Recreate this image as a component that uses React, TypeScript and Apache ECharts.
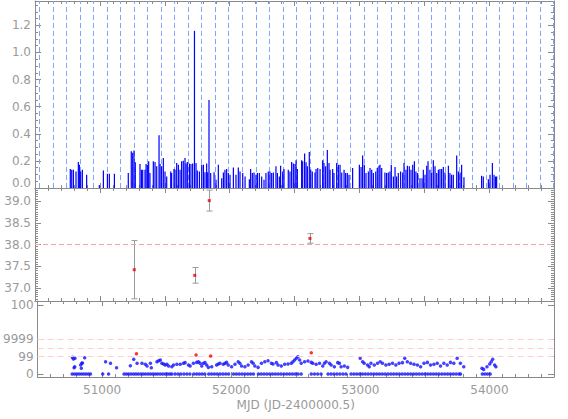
import React, { useEffect, useRef } from "react";
import * as echarts from "echarts";

// ---------- shared x range ----------
const xMin = 50500;
const xMax = 54500;

// ---------- top panel: flux per observation ----------
const fluxMjd = [
  50772, 50783, 50796, 50816, 50834, 50842, 50852, 50865, 50898, 50996,
  51027, 51058, 51073, 51112, 51219, 51242, 51253, 51263, 51273, 51309,
  51320, 51330, 51348, 51356, 51366, 51376, 51386, 51412, 51425, 51438,
  51456, 51464, 51476, 51489, 51502, 51515, 51546, 51553, 51571, 51579,
  51592, 51605, 51618, 51630, 51643, 51656, 51664, 51674, 51690, 51702,
  51715, 51729, 51741, 51751, 51767, 51785, 51798, 51810, 51823, 51831,
  51841, 51854, 51880, 51895, 51913, 51939, 51952, 51964, 51977, 51990,
  52003, 52029, 52049, 52067, 52080, 52101, 52119, 52152, 52162, 52175,
  52188, 52203, 52214, 52229, 52247, 52265, 52280, 52298, 52311, 52324,
  52337, 52357, 52368, 52383, 52393, 52409, 52419,
  52452, 52465, 52478, 52491, 52504, 52512, 52522, 52555, 52563, 52578,
  52589, 52599, 52614, 52625, 52637, 52658, 52666, 52679, 52697, 52717,
  52727, 52740, 52753, 52766, 52774, 52794, 52804, 52825, 52838, 52851,
  52864, 52882, 52894, 52907, 52920, 52948, 53000, 53013, 53025, 53038,
  53051, 53069, 53082, 53095, 53108, 53126, 53138, 53151, 53159, 53172,
  53197, 53210, 53223, 53236, 53246, 53262, 53275, 53287, 53300, 53318,
  53334, 53344, 53359, 53370, 53385, 53398, 53411, 53424, 53436, 53449,
  53467, 53483, 53493, 53506, 53519, 53529, 53544, 53557, 53570, 53583,
  53596, 53609, 53621, 53634, 53647, 53660, 53686, 53698, 53711, 53724,
  53750, 53763, 53776, 53788, 53806, 53942, 53955, 53994, 54007, 54025,
  54038, 54050, 54058,
];
const fluxVal = [
  0.14, 0.135, 0.135, 0.122, 0.192, 0.172, 0.122, 0.135, 0.097, 0.022,
  0.13, 0.105, 0.105, 0.105, 0.11, 0.272, 0.26, 0.277, 0.19, 0.177,
  0.135, 0.135, 0.135, 0.177, 0.172, 0.197, 0.11, 0.197, 0.192, 0.16,
  0.39, 0.177, 0.16, 0.222, 0.122, 0.085, 0.122, 0.11, 0.14, 0.135,
  0.185, 0.172, 0.135, 0.197, 0.202, 0.222, 0.18, 0.192, 0.18, 0.177,
  0.18, 1.16, 0.185, 0.13, 0.122, 0.172, 0.172, 0.117, 0.18, 0.117,
  0.65, 0.11, 0.117, 0.06, 0.172, 0.072, 0.115, 0.135, 0.14, 0.11,
  0.097, 0.152, 0.097, 0.152, 0.122, 0.11, 0.085, 0.065, 0.14, 0.11,
  0.115, 0.097, 0.11, 0.11, 0.085, 0.06, 0.11, 0.122, 0.122, 0.11,
  0.115, 0.16, 0.11, 0.085, 0.165, 0.122, 0.14,
  0.135, 0.122, 0.192, 0.18, 0.177, 0.205, 0.14, 0.205, 0.197, 0.255,
  0.19, 0.16, 0.265, 0.135, 0.122, 0.115, 0.14, 0.147, 0.14, 0.205,
  0.185, 0.16, 0.28, 0.185, 0.135, 0.14, 0.11, 0.185, 0.172, 0.172,
  0.115, 0.135, 0.11, 0.11, 0.097, 0.147, 0.172, 0.155, 0.24, 0.172,
  0.11, 0.122, 0.147, 0.135, 0.11, 0.122, 0.147, 0.165, 0.172, 0.147,
  0.115, 0.11, 0.115, 0.122, 0.172, 0.085, 0.155, 0.085, 0.11, 0.122,
  0.115, 0.185, 0.135, 0.165, 0.16, 0.135, 0.172, 0.197, 0.122, 0.11,
  0.072, 0.072, 0.135, 0.097, 0.165, 0.197, 0.135, 0.115, 0.205, 0.16,
  0.11, 0.135, 0.14, 0.14, 0.155, 0.115, 0.165, 0.11, 0.097, 0.097,
  0.24, 0.122, 0.115, 0.172, 0.08, 0.09, 0.085, 0.065, 0.097, 0.185,
  0.097, 0.085, 0.085,
];
// orbital ephemeris (dashed vertical lines)
const orbitT0 = 50530.8;
const orbitPeriod = 104.3;

// ---------- middle panel: log luminosity with errors ----------
const lumMjd = [51265, 51731, 51843, 52619];
const lumVal = [37.42, 37.29, 39.01, 38.14];
const lumErr = [0.67, 0.18, 0.24, 0.11];
const lumRef = 38.0;

// ---------- bottom panel: flags ----------
const flagZeroMjd = [
  50768, 50786, 50804, 50822, 50840, 50858, 50876, 50894, 50910, 51005,
  51050, 51170, 51188, 51206, 51225, 51244, 51262, 51280, 51300, 51318,
  51336, 51356, 51375, 51394, 51412, 51430, 51450, 51470, 51490, 51508,
  51526, 51540, 51565, 51588, 51610, 51634, 51657, 51680, 51710, 51732,
  51753, 51774, 51795, 51826, 51848, 51870, 51892, 51914, 51936, 51958,
  51980, 52018, 52040, 52062, 52084, 52106, 52128, 52150, 52172, 52211,
  52232, 52254, 52276, 52298, 52320, 52342, 52364, 52386, 52408, 52430,
  52452, 52474, 52496, 52518, 52542, 52620, 52645, 52670, 52696, 52750,
  52773, 52796, 52819, 52842, 52866, 52889, 52928, 52950, 52972, 52994,
  53016, 53038, 53060, 53082, 53104, 53126, 53148, 53170, 53192, 53214,
  53236, 53258, 53280, 53302, 53324, 53346, 53368, 53390, 53412, 53434,
  53456, 53478, 53500, 53522, 53544, 53566, 53588, 53610, 53632, 53654,
  53676, 53698, 53720, 53742, 53764, 53776, 53945, 53965, 53985, 54006,
];
const flagMjd = [
  50770, 50778, 50783, 50788, 50790, 50834, 50839, 50842, 50848, 50865,
  51027, 51065, 51112, 51219, 51245, 51271, 51309, 51335, 51348, 51374,
  51381, 51425, 51438, 51451, 51463, 51476, 51489, 51502, 51515, 51540,
  51553, 51579, 51605, 51630, 51643, 51669, 51682, 51707, 51733, 51746,
  51759, 51772, 51785, 51797, 51810, 51823, 51849, 51887, 51900, 51913,
  51939, 51952, 51964, 51977, 52003, 52029, 52054, 52067, 52080, 52106,
  52131, 52157, 52170, 52183, 52208, 52234, 52260, 52285, 52311, 52324,
  52350, 52363, 52388, 52414, 52440, 52465, 52478, 52491, 52504, 52517,
  52530, 52542, 52568, 52594, 52620, 52632, 52658, 52684, 52709, 52722,
  52735, 52761, 52774, 52799, 52825, 52838, 52851, 52876, 52902, 52999,
  53018, 53030, 53056, 53069, 53082, 53108, 53133, 53154, 53172, 53198,
  53223, 53249, 53275, 53300, 53326, 53344, 53364, 53390, 53416, 53442,
  53467, 53493, 53519, 53544, 53570, 53596, 53621, 53647, 53673, 53698,
  53724, 53750, 53775, 53801, 53942, 53955, 53981, 54002, 54014, 54025,
  54040, 54050,
];
const flagVal = [
  1.9, 1.71, 0.72, 0.84, 1.79, 1.03, 0.65, 1.22, 1.25, 1.87,
  1.41, 1.22, 0.72, 0.95, 1.68, 1.22, 1.22, 1.11, 0.91, 1.22,
  0.72, 1.41, 1.52, 1.6, 1.22, 1.14, 1.03, 1.11, 0.91, 0.84,
  1.03, 1.11, 1.11, 1.22, 1.3, 1.03, 0.91, 1.22, 1.33, 1.41,
  1.22, 0.91, 1.22, 1.3, 1.03, 0.76, 0.84, 1.03, 1.14, 1.22,
  1.11, 1.22, 1.33, 1.03, 0.84, 1.11, 1.41, 1.22, 0.91, 0.84,
  1.03, 1.41, 1.22, 0.91, 0.76, 1.22, 1.41, 1.52, 1.22, 1.14,
  1.3, 1.03, 0.91, 1.11, 1.14, 1.22, 1.41, 1.6, 1.79, 1.98,
  1.6, 1.22, 1.41, 1.49, 1.33, 1.22, 1.11, 1.22, 0.91, 1.22,
  1.41, 1.22, 1.03, 0.84, 1.3, 1.22, 0.84, 0.91, 0.76, 1.79,
  1.41, 1.22, 1.03, 0.84, 1.22, 1.03, 1.22, 1.41, 1.22, 1.03,
  1.11, 1.22, 1.03, 1.22, 1.3, 1.79, 1.41, 1.22, 1.11, 1.03,
  0.84, 1.22, 1.33, 1.03, 1.11, 1.22, 0.91, 1.22, 1.03, 1.33,
  1.22, 1.79, 1.22, 0.84, 0.65, 0.53, 0.84, 1.14, 1.41, 1.68,
  1.03, 0.84,
];
const flagRedMjd = [51266, 51728, 51841, 52620];
const flagRedVal = [2.32, 2.17, 2.06, 2.44];
const flagLevels = [2, 3, 4];
const flagTickValues = [0, 2, 4, 7.85];
const flagTickLabels = ["0", "99", "9999", "100"];
const flagMin = -0.34;
const flagMax = 8.34;

// ---------- styling ----------
const axisColor = "#8a8a8a";
const labelColor = "#9a9a9a";
const fontFamily = "DejaVu Sans";
const fontSize = 12;
const topMax = 1.38;

function xAxisFor(gridIndex: number, position: "top" | "bottom", showLabels: boolean, name?: string) {
  return {
    type: "value",
    gridIndex,
    position,
    min: xMin,
    max: xMax,
    interval: 500,
    name: name || "",
    nameLocation: "middle",
    nameGap: 22,
    nameTextStyle: { color: labelColor, fontFamily, fontSize },
    axisLine: { show: true, onZero: false, lineStyle: { color: axisColor, width: 1 } },
    axisTick: { show: true, inside: true, length: 5, lineStyle: { color: axisColor } },
    minorTick: { show: true, splitNumber: 5, length: 3, lineStyle: { color: axisColor } },
    minorSplitLine: { show: false },
    axisLabel: showLabels
      ? {
          show: true,
          margin: 7,
          color: labelColor,
          fontFamily,
          fontSize,
          formatter: (v: number) => (v % 1000 === 0 ? String(v) : ""),
        }
      : { show: false },
    splitLine: { show: false },
  };
}

function App() {
  const ref = useRef<HTMLDivElement>(null);

  useEffect(() => {
    if (!ref.current) return;
    const chart = echarts.init(ref.current, undefined, { renderer: "svg" });

    const orbitEpochs: number[] = [];
    for (let t = orbitT0; t <= xMax; t += orbitPeriod) orbitEpochs.push(t);

    const yTop = (position: "left" | "right", labels: boolean) => ({
      type: "value",
      gridIndex: 0,
      position,
      min: 0,
      max: topMax,
      interval: 0.2,
      axisLine: { show: true, onZero: false, lineStyle: { color: axisColor } },
      axisTick: { show: true, inside: true, length: 6, lineStyle: { color: axisColor } },
      minorTick: { show: true, splitNumber: 4, length: 3, lineStyle: { color: axisColor } },
      minorSplitLine: { show: false },
      axisLabel: labels
        ? {
            show: true,
            margin: 4,
            showMaxLabel: false,
            color: labelColor,
            fontFamily,
            fontSize,
            formatter: (v: number) => (v === 0 ? "{z|0.0}" : v.toFixed(1)),
            rich: { z: { padding: [0, 0, 10, 0], color: labelColor, fontFamily, fontSize } },
          }
        : { show: false },
      splitLine: { show: false },
    });

    const yMid = (position: "left" | "right", labels: boolean) => ({
      type: "value",
      gridIndex: 1,
      position,
      min: 36.7,
      max: 39.3,
      splitNumber: 5,
      axisLine: { show: true, onZero: false, lineStyle: { color: axisColor } },
      axisTick: { show: true, inside: true, length: 6, lineStyle: { color: axisColor } },
      minorTick: { show: true, splitNumber: 10, length: 3, lineStyle: { color: axisColor } },
      minorSplitLine: { show: false },
      axisLabel: labels
        ? {
            show: true,
            margin: 4,
            showMinLabel: false,
            showMaxLabel: false,
            color: labelColor,
            fontFamily,
            fontSize,
            formatter: (v: number) => v.toFixed(1),
          }
        : { show: false },
      splitLine: { show: false },
    });

    const yBot = (position: "left" | "right", labels: boolean) => ({
      type: "value",
      gridIndex: 2,
      position,
      min: flagMin,
      max: flagMax,
      axisLine: { show: true, onZero: false, lineStyle: { color: axisColor } },
      axisTick: { show: true, inside: true, length: 6, customValues: flagTickValues, lineStyle: { color: axisColor } },
      minorSplitLine: { show: false },
      axisLabel: labels
        ? {
            show: true,
            margin: 4,
            customValues: flagTickValues,
            color: labelColor,
            fontFamily,
            fontSize,
            formatter: (v: number) => {
              const i = flagTickValues.indexOf(v);
              return i >= 0 ? flagTickLabels[i] : "";
            },
          }
        : { show: false },
      splitLine: { show: false },
    });

    const option: any = {
      animation: false,
      backgroundColor: "#ffffff",
      grid: [
        { left: 35, right: 14, top: 1, height: 187 },
        { left: 35, right: 14, top: 188, height: 113 },
        { left: 35, right: 14, top: 301, height: 76 },
      ],
      xAxis: [
        xAxisFor(0, "bottom", false),
        xAxisFor(0, "top", false),
        xAxisFor(1, "bottom", false),
        xAxisFor(1, "top", false),
        xAxisFor(2, "bottom", true, "MJD (JD-2400000.5)"),
        xAxisFor(2, "top", false),
      ],
      yAxis: [
        yTop("left", true),
        yTop("right", false),
        yMid("left", true),
        yMid("right", false),
        yBot("left", true),
        yBot("right", false),
      ],
      series: [
        {
          type: "custom",
          xAxisIndex: 0,
          yAxisIndex: 0,
          silent: true,
          data: orbitEpochs.map((t) => [t]),
          renderItem: (_params: any, api: any) => {
            const t = api.value(0);
            const a = api.coord([t, 0]);
            const b = api.coord([t, topMax]);
            const x = Math.round(a[0]) + 0.5;
            return {
              type: "line",
              shape: { x1: x, y1: a[1], x2: x, y2: b[1] },
              style: { stroke: "#7ea6ff", lineWidth: 1, lineDash: [5, 3] },
            };
          },
        },
        {
          type: "bar",
          xAxisIndex: 0,
          yAxisIndex: 0,
          barWidth: 1.2,
          itemStyle: { color: "#0000ff" },
          data: fluxMjd.map((m, i) => [m, fluxVal[i]]),
        },
        {
          type: "custom",
          xAxisIndex: 2,
          yAxisIndex: 2,
          data: lumMjd.map((m, i) => [m, lumVal[i], lumErr[i]]),
          renderItem: (_params: any, api: any) => {
            const xv = api.value(0);
            const y = api.value(1);
            const e = api.value(2);
            const top = api.coord([xv, y + e]);
            const bot = api.coord([xv, y - e]);
            const x = Math.round(top[0]) + 0.5;
            const cap = 3;
            const st = { stroke: "#9a9a9a", lineWidth: 1 };
            return {
              type: "group",
              children: [
                { type: "line", shape: { x1: x, y1: top[1], x2: x, y2: bot[1] }, style: st },
                { type: "line", shape: { x1: x - cap, y1: top[1], x2: x + cap, y2: top[1] }, style: st },
                { type: "line", shape: { x1: x - cap, y1: bot[1], x2: x + cap, y2: bot[1] }, style: st },
              ],
            };
          },
        },
        {
          type: "scatter",
          xAxisIndex: 2,
          yAxisIndex: 2,
          symbol: "rect",
          symbolSize: 3,
          z: 5,
          itemStyle: { color: "#ee0000" },
          data: lumMjd.map((m, i) => [m, lumVal[i]]),
          markLine: {
            silent: true,
            symbol: ["none", "none"],
            label: { show: false },
            lineStyle: { color: "#ff9f9f", type: [5, 3], width: 1 },
            data: [{ yAxis: lumRef }],
          },
        },
        {
          type: "scatter",
          xAxisIndex: 4,
          yAxisIndex: 4,
          symbol: "circle",
          symbolSize: 3.5,
          itemStyle: { color: "#1414ff" },
          data: flagZeroMjd.map((m) => [m, 0]),
          markLine: {
            silent: true,
            symbol: ["none", "none"],
            label: { show: false },
            lineStyle: { color: "#ffcfcf", type: [6, 4], width: 1 },
            data: flagLevels.map((v) => ({ yAxis: v })),
          },
        },
        {
          type: "scatter",
          xAxisIndex: 4,
          yAxisIndex: 4,
          symbol: "circle",
          symbolSize: 3.5,
          itemStyle: { color: "#1414ff" },
          data: flagMjd.map((m, i) => [m, flagVal[i]]),
        },
        {
          type: "scatter",
          xAxisIndex: 4,
          yAxisIndex: 4,
          symbol: "circle",
          symbolSize: 3.5,
          z: 5,
          itemStyle: { color: "#ff0000" },
          data: flagRedMjd.map((m, i) => [m, flagRedVal[i]]),
        },
      ],
    };

    chart.setOption(option);
    return () => chart.dispose();
  }, []);

  return (
    <div
      ref={ref}
      style={{ position: "fixed", left: 0, top: 0, width: 568, height: 419, background: "#fff" }}
    />
  );
}

export default App;
